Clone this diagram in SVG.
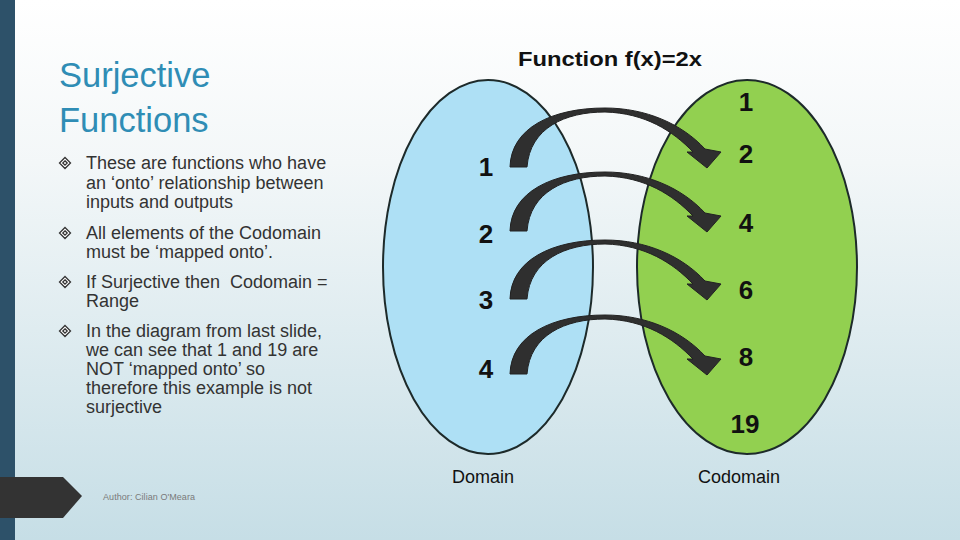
<svg xmlns="http://www.w3.org/2000/svg" width="960" height="540" viewBox="0 0 960 540">
<defs>
<linearGradient id="bg" x1="0" y1="0" x2="0" y2="1">
<stop offset="0" stop-color="#ffffff"/>
<stop offset="0.3" stop-color="#f3f7f8"/>
<stop offset="1" stop-color="#c6dee6"/>
</linearGradient>
<path id="curve" d="M510,167 C511,128 552,108 605,108 C646,108 682,124 705,149 L721,152 L707,168 L687,152 L693,152 C673,131 645,113 605,112 C565,112 530,128 527,167 Z"/>
<path id="bul" d="M0,-5.5 L5.5,0 L0,5.5 L-5.5,0 Z M0,-2.2 L2.2,0 L0,2.2 L-2.2,0 Z"/>
</defs>
<style>
.body{font-family:"Liberation Sans",Arial,sans-serif;font-size:18px;fill:#333333}
.num{font-family:"Liberation Sans",Arial,sans-serif;font-size:26px;font-weight:bold;fill:#111;text-anchor:middle}
.lab{font-family:"Liberation Sans",Arial,sans-serif;font-size:18px;fill:#111;text-anchor:middle}
.ell{stroke:#1d2a2a;stroke-width:2}
.arc{fill:#2f2f2f;stroke:#222;stroke-width:1}
.bul{fill:#fff;stroke:#333;stroke-width:1.3}
</style>
<rect x="0" y="0" width="960" height="540" fill="url(#bg)"/>
<rect x="0" y="0" width="15" height="540" fill="#2d5169"/>
<polygon points="0,477 63,477 82,496 63,518 0,518" fill="#333333"/>
<text x="103" y="500" font-family="Liberation Sans, Arial, sans-serif" font-size="9" fill="#7a7a7a" textLength="92" lengthAdjust="spacing">Author: Cilian O'Meara</text>

<g id="title">
<text x="59" y="87" font-family="Liberation Sans, Arial, sans-serif" font-size="34.5" fill="#2f8db5">Surjective</text>
<text x="59" y="132" font-family="Liberation Sans, Arial, sans-serif" font-size="34.5" fill="#2f8db5">Functions</text>
</g>

<g id="bullets">
<use href="#bul" class="bul" x="65" y="163"/>
<text class="body" x="86" y="169">These are functions who have</text>
<text class="body" x="86" y="189">an ‘onto’ relationship between</text>
<text class="body" x="86" y="208">inputs and outputs</text>
<use href="#bul" class="bul" x="65" y="233"/>
<text class="body" x="86" y="239">All elements of the Codomain</text>
<text class="body" x="86" y="258">must be ‘mapped onto’.</text>
<use href="#bul" class="bul" x="65" y="282"/>
<text class="body" x="86" y="288" style="white-space:pre">If Surjective then  Codomain =</text>
<text class="body" x="86" y="307">Range</text>
<use href="#bul" class="bul" x="65" y="331"/>
<text class="body" x="86" y="337">In the diagram from last slide,</text>
<text class="body" x="86" y="356">we can see that 1 and 19 are</text>
<text class="body" x="86" y="375">NOT ‘mapped onto’ so</text>
<text class="body" x="86" y="394">therefore this example is not</text>
<text class="body" x="86" y="413">surjective</text>
</g>

<g id="heading">
<text x="518" y="66" font-family="Liberation Sans, Arial, sans-serif" font-size="21" font-weight="bold" fill="#111" textLength="184" lengthAdjust="spacingAndGlyphs">Function f(x)=2x</text>
</g>

<g id="domain">
<ellipse cx="488" cy="267" rx="105" ry="187" fill="#aee0f5" class="ell"/>
<text class="lab" x="483" y="483">Domain</text>
</g>
<g id="codomain">
<ellipse cx="747" cy="267" rx="110" ry="187" fill="#92d050" class="ell"/>
<text class="lab" x="739" y="483">Codomain</text>
</g>

<g id="connectors">
<use href="#curve" class="arc"/>
<use href="#curve" class="arc" transform="translate(0,64)"/>
<use href="#curve" class="arc" transform="translate(0,132)"/>
<use href="#curve" class="arc" transform="translate(0,207)"/>
</g>

<g id="domain-values">
<text class="num" x="486" y="176">1</text>
<text class="num" x="486" y="243">2</text>
<text class="num" x="486" y="309">3</text>
<text class="num" x="486" y="378">4</text>
</g>
<g id="codomain-values">
<text class="num" x="746" y="111">1</text>
<text class="num" x="746" y="163">2</text>
<text class="num" x="746" y="232">4</text>
<text class="num" x="746" y="299">6</text>
<text class="num" x="746" y="366">8</text>
<text class="num" x="745" y="433">19</text>
</g>
</svg>
